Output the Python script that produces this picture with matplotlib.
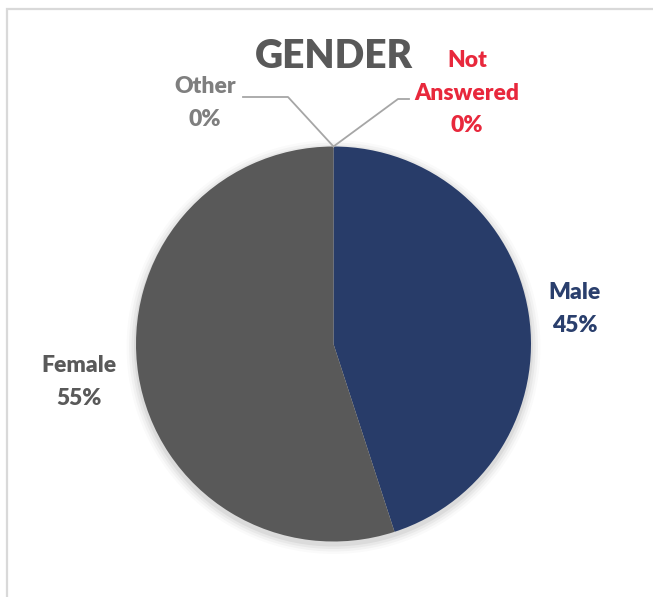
import matplotlib.pyplot as plt
from matplotlib.patches import Rectangle, Circle

# data
categories = ["Male", "Female", "Other", "Not\nAnswered"]
shares = [45, 55, 0, 0]
slice_colors = ["#283C69", "#595959", "#A5A5A5", "#E8283C"]
label_colors = ["#2A3F6D", "#595959", "#7F7F7F", "#E8283C"]

W, H = 653, 597
fig = plt.figure(figsize=(W / 100, H / 100), dpi=100)
ax = fig.add_axes([0, 0, 1, 1])

cx, cy, r = 333.5, H - 344, 197.5

# soft shadow under the pie
for k, a in enumerate([0.05, 0.04, 0.03, 0.02]):
    ax.add_patch(Circle((cx, cy - 3), r + 2 + 2.5 * k, color="black",
                        alpha=a, lw=0, zorder=1))

ax.pie(shares, colors=slice_colors, startangle=90, counterclock=False,
       center=(cx, cy), radius=r, wedgeprops=dict(lw=0, zorder=2),
       frame=True)
ax.set_xlim(0, W)
ax.set_ylim(0, H)
ax.set_aspect("equal")
ax.axis("off")

# chart frame
ax.add_patch(Rectangle((6.5, -20), W + 40, H - 8.5 + 20, fill=False,
                       edgecolor="#D9D9D9", lw=1.6))

font = dict(family=["Lato", "DejaVu Sans"], fontweight="heavy")

ax.text(334, H - 56, "GENDER", ha="center", va="center", fontsize=28,
        color="#595959", **font)

labels = [f"{c}\n{v}%" for c, v in zip(categories, shares)]
label_pos = [(575, H - 309), (79, H - 382), (205, H - 103), (467, H - 93)]
for txt, (x, y), col in zip(labels, label_pos, label_colors):
    ax.text(x, y, txt, ha="center", va="center", fontsize=16.5, color=col,
            linespacing=1.65, **font)

# leader lines for the zero slices
top = (cx, cy + r)
ax.plot([top[0], 288, 243], [top[1], H - 97, H - 97], color="#A6A6A6",
        lw=1.3, zorder=3)
ax.plot([top[0], 398, 409], [top[1], H - 99, H - 99], color="#A6A6A6",
        lw=1.3, zorder=3)

fig.savefig("out.png", dpi=100)
